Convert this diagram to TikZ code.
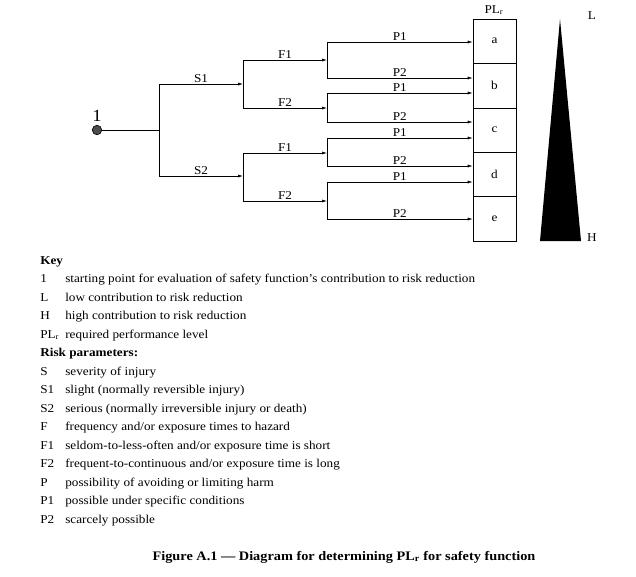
\documentclass[tikz,border=0pt]{standalone}
\usepackage{fontspec}
\setmainfont{Liberation Serif}[FakeStretch=1.1]
\usetikzlibrary{arrows.meta, positioning}

\tikzset{
	branch/.style = {-{Latex[length=5pt, width=3pt]}},
	tag/.style = {above, inner sep=1.5pt, font=\fontsize{12}{13}\selectfont},
	plbox/.style = {draw, minimum width=43pt, minimum height=44.4pt, inner sep=0pt, font=\fontsize{12}{13}\selectfont},
	keytext/.style = {anchor=base west, inner sep=0pt, font=\fontsize{12}{14}\selectfont},
}

\begin{document}
\begin{tikzpicture}[x=1pt, y=-1pt, line width=0.6pt]
	\useasboundingbox (0,0) rectangle (636,576);

	% start point and S branches
	\node[circle, draw, fill=black!70, minimum size=9.5pt, inner sep=0pt] (start) at (97,130) {};
	\node[above=3pt of start, inner sep=0pt, font=\fontsize{17}{18}\selectfont] (one) {1};
	\coordinate (sj) at (159,130);
	\coordinate (S1) at (243,84);
	\coordinate (S2) at (243,176);
	\draw (start) -- (sj);
	\draw (sj |- S1) -- (sj |- S2);
	\draw[branch] (sj |- S1) -- node[tag] {S1} (S1);
	\draw[branch] (sj |- S2) -- node[tag] {S2} (S2);

	% PL_r boxes
	\foreach \b [count=\i] in {a, b, c, d, e}
		\node[plbox] (\b) at (494.5, {19 + 44.4*(\i - 0.5)}) {\b};
	\node[inner sep=0pt, font=\fontsize{12}{13}\selectfont] (plr) at (494,10) {PL\textsubscript{r}};

	% F branches
	\foreach \s/\fa/\fb in {S1/60/108, S2/153/201} {
		\coordinate (fa) at (243,\fa);
		\coordinate (fb) at (243,\fb);
		\draw (fa) -- (fb);
		\draw[branch] (fa) -- node[tag] {F1} (fa -| 327,0);
		\draw[branch] (fb) -- node[tag] {F2} (fb -| 327,0);
	}

	% P branches
	\foreach \pa/\pb/\ba/\bb in {42/78/a/b, 93/122/b/c, 138/166/c/d, 182/219/d/e} {
		\coordinate (p1) at (327,\pa);
		\coordinate (p2) at (327,\pb);
		\draw (p1) -- (p2);
		\draw[branch] (p1) -- node[tag] {P1} (p1 -| \ba.west);
		\draw[branch] (p2) -- node[tag] {P2} (p2 -| \bb.west);
	}

	% contribution wedge
	\coordinate (apex) at (560,19);
	\coordinate (bl) at (540,241);
	\coordinate (br) at (581,241);
	\fill (apex) -- (bl) -- (br) -- cycle;
	\node[font=\fontsize{12}{13}\selectfont] (low) at (592,16) {L};
	\node[font=\fontsize{12}{13}\selectfont] (high) at (592,238) {H};

	% key
	\node[keytext, font=\fontsize{12}{14}\selectfont\bfseries] (key) at (40,264) {Key};
	\foreach \k/\t [count=\i] in {
		1/{starting point for evaluation of safety function’s contribution to risk reduction},
		L/{low contribution to risk reduction},
		H/{high contribution to risk reduction},
		{PL\textsubscript{r}}/{required performance level}} {
		\node[keytext] (k\i) at (40, {264 + 18.5*\i}) {\k};
		\node[keytext] (t\i) at (65, {264 + 18.5*\i}) {\t};
	}
	\node[keytext, font=\fontsize{12}{14}\selectfont\bfseries] (risk) at (40,356.5) {Risk parameters:};
	\foreach \k/\t [count=\i] in {
		S/{severity of injury},
		S1/{slight (normally reversible injury)},
		S2/{serious (normally irreversible injury or death)},
		F/{frequency and/or exposure times to hazard},
		F1/{seldom-to-less-often and/or exposure time is short},
		F2/{frequent-to-continuous and/or exposure time is long},
		P/{possibility of avoiding or limiting harm},
		P1/{possible under specific conditions},
		P2/{scarcely possible}} {
		\node[keytext] (r\i) at (40, {356.5 + 18.5*\i}) {\k};
		\node[keytext] (q\i) at (65, {356.5 + 18.5*\i}) {\t};
	}

	% caption
	\node[anchor=base, font=\fontsize{13}{15}\selectfont\bfseries] (caption) at (344,560)
		{Figure A.1 — Diagram for determining PL\textsubscript{r} for safety function};
\end{tikzpicture}
\end{document}
